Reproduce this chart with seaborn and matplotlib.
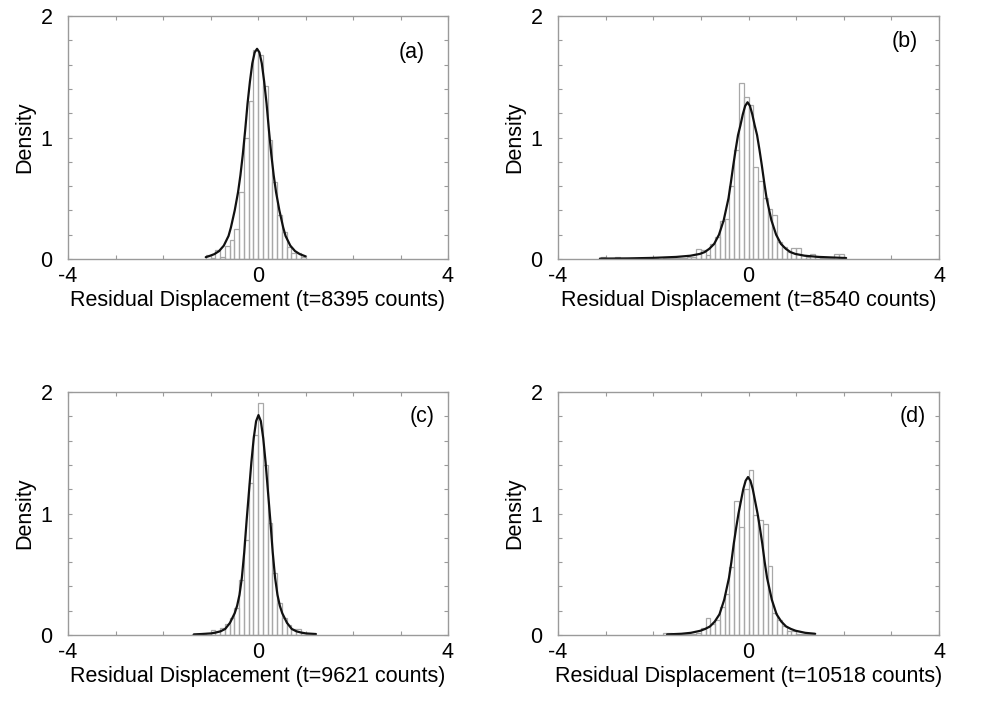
import numpy as np
import pandas as pd
import matplotlib
matplotlib.use("Agg")
import matplotlib.pyplot as plt
import seaborn as sns

# ---- histogram data: first bin left edge and bin heights (bin width 0.1) ----
bin_width = 0.1

a_start = -1.1
a_heights = [0.03, 0.01, 0.07, 0.02, 0.11, 0.16, 0.25, 0.55, 1.00, 1.30,
             1.72, 1.68, 1.42, 0.98, 0.63, 0.36, 0.22, 0.10, 0.05, 0.05, 0.02]

b_start = -3.1
b_heights = [0.02, 0.0, 0.0, 0.02, 0.0, 0.0, 0.0, 0.0, 0.0, 0.0,
             0.0, 0.01, 0.0, 0.005, 0.01, 0.005, 0.01, 0.01, 0.015, 0.02,
             0.08, 0.075, 0.03, 0.12, 0.18, 0.31, 0.33, 0.60, 0.90, 1.45,
             1.33, 1.27, 0.76, 0.64, 0.50, 0.41, 0.36, 0.14, 0.10, 0.06,
             0.09, 0.09, 0.03, 0.02, 0.04, 0.02, 0.01, 0.01, 0.005, 0.04, 0.04]

c_start = -1.4
c_heights = [0.005, 0.01, 0.01, 0.02, 0.04, 0.03, 0.06, 0.09, 0.14, 0.22,
             0.45, 0.78, 1.25, 1.65, 1.91, 1.40, 0.92, 0.51, 0.26, 0.14,
             0.08, 0.05, 0.05, 0.02, 0.01, 0.01]

d_start = -1.8
d_heights = [0.015, 0.015, 0.005, 0.005, 0.005, 0.01, 0.01, 0.02, 0.06, 0.14,
             0.09, 0.12, 0.23, 0.34, 0.56, 1.105, 0.89, 1.20, 1.36, 0.99,
             0.95, 0.91, 0.57, 0.18, 0.12, 0.07, 0.03, 0.03, 0.01, 0.01,
             0.005, 0.005]

# ---- fitted density curves ----
a_curve_x = [-1.10, -1.02, -0.92, -0.82, -0.72, -0.62, -0.57, -0.49, -0.42, -0.37,
             -0.32, -0.27, -0.22, -0.17, -0.12, -0.07, -0.02, 0.03, 0.08, 0.13,
             0.18, 0.23, 0.28, 0.33, 0.38, 0.45, 0.53, 0.58, 0.68, 0.78,
             0.88, 0.98, 1.00]
a_curve_y = [0.015, 0.025, 0.04, 0.065, 0.11, 0.19, 0.26, 0.40, 0.55, 0.69,
             0.86, 1.06, 1.28, 1.46, 1.61, 1.70, 1.73, 1.70, 1.61, 1.46,
             1.28, 1.06, 0.86, 0.69, 0.55, 0.40, 0.26, 0.19, 0.11, 0.065,
             0.04, 0.025, 0.022]

b_curve_x = [-3.12, -2.52, -2.02, -1.52, -1.22, -1.02, -0.92, -0.82, -0.72, -0.62,
             -0.52, -0.42, -0.37, -0.32, -0.27, -0.22, -0.17, -0.12, -0.07, -0.02,
             0.03, 0.08, 0.13, 0.18, 0.23, 0.28, 0.33, 0.38, 0.48, 0.58,
             0.68, 0.78, 0.88, 0.98, 1.18, 1.48, 1.98, 2.05]
b_curve_y = [0.003, 0.005, 0.009, 0.017, 0.027, 0.042, 0.057, 0.085, 0.125, 0.20,
             0.32, 0.50, 0.63, 0.77, 0.90, 1.02, 1.10, 1.19, 1.26, 1.29,
             1.26, 1.19, 1.10, 1.02, 0.90, 0.77, 0.63, 0.50, 0.32, 0.20,
             0.125, 0.085, 0.057, 0.042, 0.027, 0.017, 0.009, 0.008]

c_curve_x = [-1.35, -1.19, -0.99, -0.89, -0.79, -0.69, -0.59, -0.49, -0.44, -0.39,
             -0.34, -0.29, -0.24, -0.19, -0.14, -0.09, -0.04, 0.01, 0.06, 0.11,
             0.16, 0.21, 0.26, 0.31, 0.36, 0.41, 0.46, 0.51, 0.61, 0.71,
             0.81, 0.91, 1.01, 1.22]
c_curve_y = [0.005, 0.008, 0.013, 0.02, 0.03, 0.05, 0.10, 0.18, 0.24, 0.33,
             0.47, 0.68, 0.94, 1.18, 1.42, 1.62, 1.76, 1.81, 1.76, 1.62,
             1.42, 1.18, 0.94, 0.68, 0.47, 0.33, 0.24, 0.18, 0.10, 0.05,
             0.03, 0.02, 0.013, 0.008]

d_curve_x = [-1.71, -1.41, -1.21, -1.01, -0.91, -0.81, -0.71, -0.61, -0.51, -0.41,
             -0.36, -0.31, -0.26, -0.21, -0.16, -0.11, -0.06, -0.01, 0.04, 0.09,
             0.14, 0.19, 0.24, 0.29, 0.34, 0.39, 0.49, 0.59, 0.69, 0.79,
             0.89, 0.99, 1.19, 1.40]
d_curve_y = [0.005, 0.01, 0.018, 0.035, 0.05, 0.07, 0.11, 0.17, 0.29, 0.47,
             0.60, 0.75, 0.88, 1.00, 1.10, 1.20, 1.27, 1.30, 1.27, 1.20,
             1.10, 1.00, 0.88, 0.75, 0.60, 0.47, 0.29, 0.17, 0.11, 0.07,
             0.05, 0.035, 0.018, 0.01]

panel_tags = ["(a)", "(b)", "(c)", "(d)"]
count_labels = ["8395", "8540", "9621", "10518"]
x_tick_values = [-4, -3, -2, -1, 0, 1, 2, 3, 4]
x_tick_text = ["-4", "", "", "", "0", "", "", "", "4"]
y_tick_values = [0.0, 0.2, 0.4, 0.6, 0.8, 1.0, 1.2, 1.4, 1.6, 1.8, 2.0]
y_tick_text = ["0", "", "", "", "", "1", "", "", "", "", "2"]

panels = [
    (a_start, a_heights, a_curve_x, a_curve_y),
    (b_start, b_heights, b_curve_x, b_curve_y),
    (c_start, c_heights, c_curve_x, c_curve_y),
    (d_start, d_heights, d_curve_x, d_curve_y),
]

sns.set_theme(style="white")
plt.rcParams["font.family"] = ["Liberation Sans", "DejaVu Sans"]

W, H = 989, 705
fig = plt.figure(figsize=(W / 100, H / 100), dpi=100)

# axes boxes in pixels: left, top, right, bottom
boxes = [(68, 16, 448, 259), (558, 16, 939, 259),
         (68, 392, 448, 635), (558, 392, 939, 635)]
tag_pos = [(3.24, 1.70), (3.29, 1.79), (3.45, 1.80), (3.45, 1.80)]

frame_grey = "#9a9a9a"
bar_grey = "#a8a8a8"
fs = 15.5

for i, ((start, heights, cx, cy), (l, t, r, b)) in enumerate(zip(panels, boxes)):
    ax = fig.add_axes([l / W, 1 - b / H, (r - l) / W, (b - t) / H])
    n = len(heights)
    centers = start + bin_width * (np.arange(n) + 0.5)
    hist_df = pd.DataFrame({"x": centers, "w": heights})
    sns.histplot(data=hist_df, x="x", weights="w", binwidth=bin_width,
                 binrange=(start, start + n * bin_width), stat="count",
                 fill=False, color=bar_grey, linewidth=0.9, ax=ax)
    curve_df = pd.DataFrame({"x": cx, "y": cy})
    sns.lineplot(data=curve_df, x="x", y="y", color="#111111", linewidth=1.6,
                 sort=False, estimator=None, ax=ax)

    ax.set_xlim(-4, 4)
    ax.set_ylim(0, 2)
    ax.set_xticks(x_tick_values)
    ax.set_xticklabels(x_tick_text)
    ax.set_yticks(y_tick_values)
    ax.set_yticklabels(y_tick_text)
    ax.tick_params(axis="both", which="major", direction="in", length=3,
                   width=0.8, color=frame_grey, labelsize=fs, labelcolor="black",
                   top=True, right=True, bottom=True, left=True)
    ax.tick_params(axis="x", pad=5)
    ax.tick_params(axis="y", pad=11)
    for sp in ax.spines.values():
        sp.set_visible(True)
        sp.set_color(frame_grey)
        sp.set_linewidth(1.0)
    ax.set_xlabel(f"Residual Displacement (t={count_labels[i]} counts)",
                  fontsize=fs, color="black", labelpad=2)
    ax.set_ylabel("Density", fontsize=fs, color="black", labelpad=4)
    ax.text(tag_pos[i][0], tag_pos[i][1], panel_tags[i], fontsize=fs,
            ha="center", va="center", color="black")

fig.savefig("out.png", dpi=100, facecolor="white")
